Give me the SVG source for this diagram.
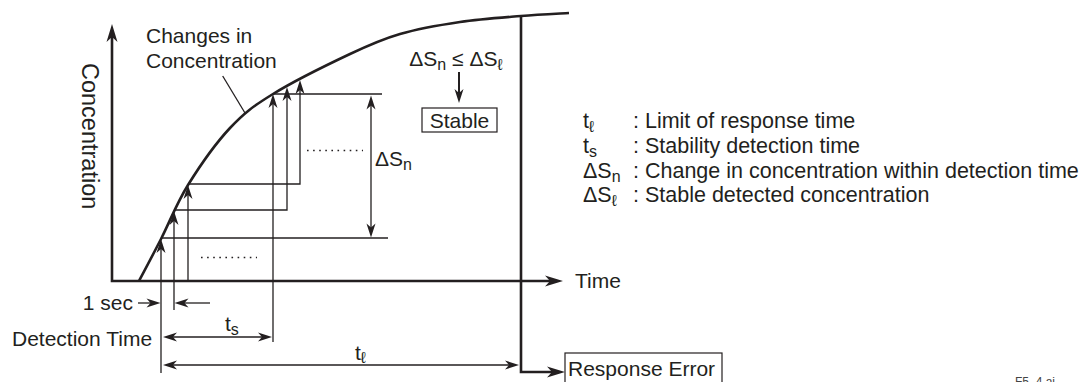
<svg xmlns="http://www.w3.org/2000/svg" width="1084" height="382" viewBox="0 0 1084 382">
<defs>
<style>
text{font-family:"Liberation Sans",Arial,sans-serif;font-size:21px;fill:#231f20}
.sub{font-size:16px}
.lg{font-size:21.5px}
.thick{fill:none;stroke:#231f20;stroke-width:2.6}
.thin{fill:none;stroke:#231f20;stroke-width:1.3}
.dot{fill:none;stroke:#231f20;stroke-width:1.6;stroke-dasharray:1.6 4.5}
.box{fill:#fff;stroke:#231f20;stroke-width:1.2}
</style>
<marker id="ah" markerUnits="userSpaceOnUse" overflow="visible" orient="auto-start-reverse" refX="-8" refY="0" markerWidth="20" markerHeight="20"><path d="M0,0 L-14,-4.5 L-10,0 L-14,4.5 Z" fill="#231f20"/></marker>
<marker id="ahb" markerUnits="userSpaceOnUse" overflow="visible" orient="auto-start-reverse" refX="-10" refY="0" markerWidth="24" markerHeight="24"><path d="M0,0 L-18,-5.5 L-13,0 L-18,5.5 Z" fill="#231f20"/></marker>
</defs>
<rect x="0" y="0" width="1084" height="382" fill="#fff"/>

<g id="axes">
<path class="thick" d="M112,34 V281 H553" marker-start="url(#ahb)" marker-end="url(#ahb)"/>
</g>

<g id="curve">
<path class="thick" d="M139,281 C142.7,274 152.8,255 161,239 C169.2,223 176.5,203.5 188,185 C199.5,166.5 215.8,143.2 230,128 C244.2,112.8 253,106.3 273,94 C293,81.7 328.8,64 350,54 C371.2,44 381.7,39.3 400,34 C418.3,28.7 439.8,25 460,22 C480.2,19 502.8,17.5 521,16 C539.2,14.5 561,13.5 569,13"/>
</g>

<g id="connectors">
<path class="thick" d="M521,16 V372 H555" marker-end="url(#ahb)"/>
<path class="thin" d="M222.7,76 L245,113"/>
<path class="thin" d="M161,373 V247" marker-end="url(#ah)"/>
<path class="thin" d="M161,238 H388"/>
<path class="thin" d="M174,310 V219" marker-end="url(#ah)"/>
<path class="thin" d="M174,210 H287 V95" marker-end="url(#ah)"/>
<path class="thin" d="M188,281 V193" marker-end="url(#ah)"/>
<path class="thin" d="M188,184 H300 V88" marker-end="url(#ah)"/>
<path class="thin" d="M273,342 V102" marker-end="url(#ah)"/>
<path class="thin" d="M273,94 H382"/>
<path class="thin" d="M371,103.5 V229.5" marker-start="url(#ah)" marker-end="url(#ah)"/>
<path class="dot" d="M307,150.5 H363"/>
<path class="dot" d="M201,257.5 H257"/>
<path class="thin" style="stroke-width:2" d="M459,72 V95" marker-end="url(#ah)"/>
<path class="thin" d="M138,303 H152.5" marker-end="url(#ah)"/>
<path class="thin" d="M210,303 H182.5" marker-end="url(#ah)"/>
<path class="thin" d="M171,337 H264" marker-start="url(#ah)" marker-end="url(#ah)"/>
<path class="thin" d="M171,365 H511" marker-start="url(#ah)" marker-end="url(#ah)"/>
</g>

<g id="labels">
<text x="146" y="43">Changes in</text>
<text x="146" y="68">Concentration</text>
<text transform="translate(82,63) rotate(90)" style="font-size:23.5px">Concentration</text>
<text x="375" y="166">ΔS<tspan class="sub" dy="4">n</tspan></text>
<text x="456" y="66" text-anchor="middle">ΔS<tspan class="sub" dy="4">n</tspan><tspan dy="-4"> ≤ ΔS</tspan><tspan class="sub" dy="4">ℓ</tspan></text>
<text x="575" y="288">Time</text>
<text x="133" y="310" text-anchor="end">1 sec</text>
<text x="12" y="346">Detection Time</text>
<text x="225" y="331">t<tspan class="sub" dy="4">s</tspan></text>
<text x="355" y="360">t<tspan class="sub" dy="3">ℓ</tspan></text>
<text x="1015" y="386" style="font-size:12px;fill:#444">F5_4.ai</text>
</g>

<g id="stable">
<rect class="box" x="422" y="108" width="75" height="24"/>
<text x="459.5" y="128" text-anchor="middle">Stable</text>
</g>

<g id="response-error">
<rect class="box" x="565" y="353" width="157" height="34"/>
<text x="568" y="376">Response Error</text>
</g>

<g id="legend">
<text class="lg" x="583" y="128">t<tspan class="sub" dy="4">ℓ</tspan></text><text class="lg" x="633" y="128">: Limit of response time</text>
<text class="lg" x="583" y="153">t<tspan class="sub" dy="4">s</tspan></text><text class="lg" x="633" y="153">: Stability detection time</text>
<text class="lg" x="583" y="178">ΔS<tspan class="sub" dy="4">n</tspan></text><text class="lg" x="633" y="178">: Change in concentration within detection time</text>
<text class="lg" x="583" y="202">ΔS<tspan class="sub" dy="4">ℓ</tspan></text><text class="lg" x="633" y="202">: Stable detected concentration</text>
</g>
</svg>
